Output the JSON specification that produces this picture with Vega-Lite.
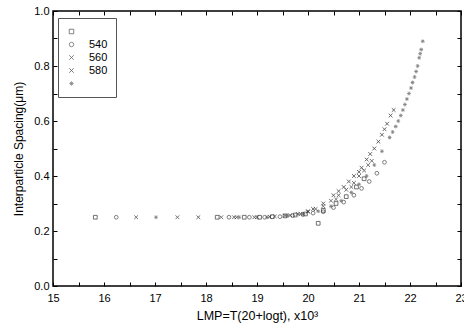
{
  "$schema": "https://vega.github.io/schema/vega-lite/v6.json",
  "width": 408,
  "height": 275,
  "autosize": {"type": "none"},
  "padding": {"left": 53, "top": 11, "right": 3, "bottom": 47},
  "background": "white",
  "config": {
    "font": "Liberation Sans",
    "view": {"stroke": "black", "strokeWidth": 1.5},
    "axis": {"grid": false, "domain": false, "tickColor": "black", "labelColor": "black", "titleColor": "black", "labelFont": "Liberation Sans", "titleFont": "Liberation Sans", "labelFontSize": 11, "titleFontSize": 12, "titleFontWeight": "normal"}
  },
  "data": {
    "values": [
      {"s": "520", "lmp": 15.83, "d": 0.25}, {"s": "520", "lmp": 18.22, "d": 0.25}, {"s": "520", "lmp": 18.75, "d": 0.25}, {"s": "520", "lmp": 19.05, "d": 0.25}, {"s": "520", "lmp": 19.3, "d": 0.252}, {"s": "520", "lmp": 19.55, "d": 0.255}, {"s": "520", "lmp": 19.75, "d": 0.258}, {"s": "520", "lmp": 19.95, "d": 0.262}, {"s": "520", "lmp": 20.2, "d": 0.228}, {"s": "520", "lmp": 20.3, "d": 0.275}, {"s": "520", "lmp": 20.55, "d": 0.3}, {"s": "520", "lmp": 20.75, "d": 0.325}, {"s": "520", "lmp": 20.95, "d": 0.36}, {"s": "520", "lmp": 21.1, "d": 0.39},
      {"s": "540", "lmp": 16.24, "d": 0.25}, {"s": "540", "lmp": 18.45, "d": 0.25}, {"s": "540", "lmp": 18.85, "d": 0.25}, {"s": "540", "lmp": 19.15, "d": 0.25}, {"s": "540", "lmp": 19.45, "d": 0.252}, {"s": "540", "lmp": 19.7, "d": 0.256}, {"s": "540", "lmp": 19.9, "d": 0.26}, {"s": "540", "lmp": 20.1, "d": 0.265}, {"s": "540", "lmp": 20.3, "d": 0.27}, {"s": "540", "lmp": 20.5, "d": 0.285}, {"s": "540", "lmp": 20.7, "d": 0.305}, {"s": "540", "lmp": 20.9, "d": 0.33}, {"s": "540", "lmp": 21.05, "d": 0.355}, {"s": "540", "lmp": 21.2, "d": 0.38}, {"s": "540", "lmp": 21.35, "d": 0.41}, {"s": "540", "lmp": 21.5, "d": 0.45},
      {"s": "560", "lmp": 16.63, "d": 0.25}, {"s": "560", "lmp": 17.44, "d": 0.25}, {"s": "560", "lmp": 18.3, "d": 0.25}, {"s": "560", "lmp": 18.6, "d": 0.25}, {"s": "560", "lmp": 19.0, "d": 0.25}, {"s": "560", "lmp": 19.35, "d": 0.253}, {"s": "560", "lmp": 19.65, "d": 0.257}, {"s": "560", "lmp": 19.85, "d": 0.262}, {"s": "560", "lmp": 20.0, "d": 0.27}, {"s": "560", "lmp": 20.15, "d": 0.28}, {"s": "560", "lmp": 20.3, "d": 0.29}, {"s": "560", "lmp": 20.45, "d": 0.31}, {"s": "560", "lmp": 20.6, "d": 0.33}, {"s": "560", "lmp": 20.75, "d": 0.35}, {"s": "560", "lmp": 20.9, "d": 0.375}, {"s": "560", "lmp": 21.0, "d": 0.4}, {"s": "560", "lmp": 21.1, "d": 0.42}, {"s": "560", "lmp": 21.25, "d": 0.455}, {"s": "560", "lmp": 20.55, "d": 0.315}, {"s": "560", "lmp": 20.85, "d": 0.36}, {"s": "560", "lmp": 21.18, "d": 0.44},
      {"s": "580", "lmp": 17.85, "d": 0.25}, {"s": "580", "lmp": 18.55, "d": 0.25}, {"s": "580", "lmp": 18.95, "d": 0.25}, {"s": "580", "lmp": 19.25, "d": 0.252}, {"s": "580", "lmp": 19.55, "d": 0.256}, {"s": "580", "lmp": 19.8, "d": 0.262}, {"s": "580", "lmp": 20.0, "d": 0.272}, {"s": "580", "lmp": 20.1, "d": 0.28}, {"s": "580", "lmp": 20.3, "d": 0.3}, {"s": "580", "lmp": 20.5, "d": 0.33}, {"s": "580", "lmp": 20.7, "d": 0.36}, {"s": "580", "lmp": 20.9, "d": 0.4}, {"s": "580", "lmp": 21.05, "d": 0.43}, {"s": "580", "lmp": 21.15, "d": 0.46}, {"s": "580", "lmp": 21.3, "d": 0.5}, {"s": "580", "lmp": 21.45, "d": 0.55}, {"s": "580", "lmp": 21.55, "d": 0.59}, {"s": "580", "lmp": 21.62, "d": 0.62}, {"s": "580", "lmp": 21.68, "d": 0.64}, {"s": "580", "lmp": 20.6, "d": 0.345}, {"s": "580", "lmp": 20.8, "d": 0.38}, {"s": "580", "lmp": 21.0, "d": 0.415}, {"s": "580", "lmp": 21.22, "d": 0.48}, {"s": "580", "lmp": 21.38, "d": 0.525}, {"s": "580", "lmp": 21.5, "d": 0.57},
      {"s": "600", "lmp": 17.02, "d": 0.25}, {"s": "600", "lmp": 18.65, "d": 0.25}, {"s": "600", "lmp": 19.2, "d": 0.25}, {"s": "600", "lmp": 19.6, "d": 0.256}, {"s": "600", "lmp": 19.9, "d": 0.262}, {"s": "600", "lmp": 20.2, "d": 0.272}, {"s": "600", "lmp": 20.45, "d": 0.29}, {"s": "600", "lmp": 20.65, "d": 0.31}, {"s": "600", "lmp": 20.85, "d": 0.34}, {"s": "600", "lmp": 21.0, "d": 0.37}, {"s": "600", "lmp": 21.15, "d": 0.4}, {"s": "600", "lmp": 21.3, "d": 0.44}, {"s": "600", "lmp": 21.45, "d": 0.49}, {"s": "600", "lmp": 21.6, "d": 0.54}, {"s": "600", "lmp": 21.72, "d": 0.58}, {"s": "600", "lmp": 21.82, "d": 0.62}, {"s": "600", "lmp": 21.9, "d": 0.66}, {"s": "600", "lmp": 21.98, "d": 0.7}, {"s": "600", "lmp": 22.05, "d": 0.74}, {"s": "600", "lmp": 22.12, "d": 0.78}, {"s": "600", "lmp": 22.18, "d": 0.83}, {"s": "600", "lmp": 22.22, "d": 0.86}, {"s": "600", "lmp": 22.25, "d": 0.89}, {"s": "600", "lmp": 21.66, "d": 0.56}, {"s": "600", "lmp": 21.77, "d": 0.6}, {"s": "600", "lmp": 21.86, "d": 0.64}, {"s": "600", "lmp": 21.94, "d": 0.68}, {"s": "600", "lmp": 22.02, "d": 0.72}, {"s": "600", "lmp": 22.09, "d": 0.76}, {"s": "600", "lmp": 22.15, "d": 0.8}, {"s": "600", "lmp": 22.2, "d": 0.845}
    ]
  },
  "layer": [
    {
      "mark": {"type": "point", "filled": false, "size": 14, "strokeWidth": 0.9},
      "encoding": {
        "x": {"field": "lmp", "type": "quantitative", "scale": {"domain": [15, 23], "nice": false, "zero": false},
          "axis": {"orient": "bottom", "values": [15, 15.5, 16, 16.5, 17, 17.5, 18, 18.5, 19, 19.5, 20, 20.5, 21, 21.5, 22, 22.5, 23], "labelExpr": "datum.value % 1 == 0 ? format(datum.value, 'd') : ''", "tickSize": -4, "labelPadding": 10, "title": "LMP=T(20+logt), x10³", "titlePadding": 6, "labelFlush": false, "titleFontSize": 12.5}},
        "y": {"field": "d", "type": "quantitative", "scale": {"domain": [0, 1], "nice": false},
          "axis": {"orient": "left", "values": [0, 0.1, 0.2, 0.3, 0.4, 0.5, 0.6, 0.7, 0.8, 0.9, 1.0], "format": ".1f", "labelExpr": "(round(datum.value*10) % 2 == 0) ? datum.label : ''", "tickSize": -4, "labelPadding": 8, "title": "Interparticle Spacing(μm)", "titlePadding": 8}},
        "shape": {"field": "s", "type": "nominal",
          "scale": {"domain": ["520", "540", "560", "580", "600"], "range": ["square", "circle", "M-1,-1L1,1M-1,1L1,-1", "M-1,-1L1,1M-1,1L1,-1", "M-1,0L1,0M0,-1L0,1M-0.7,-0.7L0.7,0.7M-0.7,0.7L0.7,-0.7"]},
          "legend": {"orient": "none", "legendX": 5, "legendY": 7, "title": null, "strokeColor": "#555", "padding": 8, "labelExpr": "datum.label == '520' || datum.label == '600' ? '' : datum.label", "labelFontSize": 11, "labelColor": "black", "symbolSize": 20, "symbolStrokeWidth": 0.8, "rowPadding": 1, "labelOffset": 12, "symbolFillColor": "transparent", "labelLimit": 60, "columnPadding": 20}},
        "color": {"field": "s", "type": "nominal",
          "scale": {"domain": ["520", "540", "560", "580", "600"], "range": ["#222222", "#333333", "#222222", "#111111", "#555555"]}}
      }
    },
    {
      "mark": {"type": "point", "opacity": 0},
      "encoding": {
        "x": {"field": "lmp", "type": "quantitative",
          "axis": {"orient": "top", "values": [15, 15.5, 16, 16.5, 17, 17.5, 18, 18.5, 19, 19.5, 20, 20.5, 21, 21.5, 22, 22.5, 23], "labels": false, "tickSize": -4, "title": null}},
        "y": {"field": "d", "type": "quantitative",
          "axis": {"orient": "right", "values": [0, 0.1, 0.2, 0.3, 0.4, 0.5, 0.6, 0.7, 0.8, 0.9, 1.0], "labels": false, "tickSize": -4, "title": null}}
      }
    }
  ]
}
